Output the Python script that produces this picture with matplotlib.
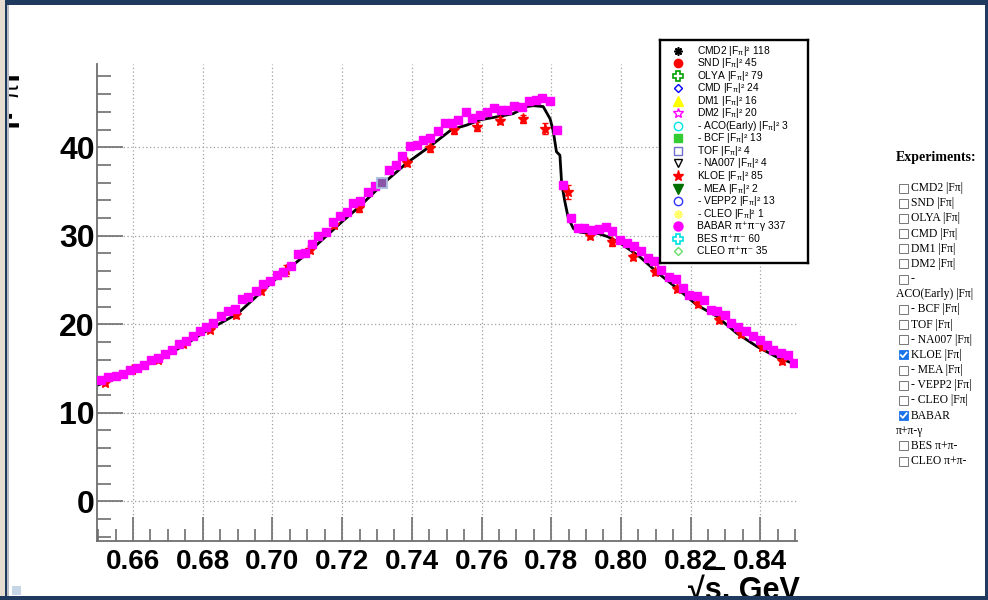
import matplotlib
matplotlib.use("Agg")
import matplotlib.pyplot as plt
from matplotlib.lines import Line2D
from matplotlib.patches import Rectangle
import numpy as np

plt.rcParams['font.family'] = ['Liberation Sans', 'DejaVu Sans']
plt.rcParams['mathtext.fontset'] = 'custom'
plt.rcParams['mathtext.rm'] = 'Liberation Sans'
plt.rcParams['mathtext.it'] = 'Liberation Sans'
plt.rcParams['mathtext.bf'] = 'Liberation Sans:bold'

# ---------------- data ----------------
babar_x = [0.6508,0.6529,0.6550,0.6571,0.6590,0.6611,0.6632,0.6652,0.6671,0.6692,
           0.6711,0.6732,0.6751,0.6772,0.6791,0.6810,0.6830,0.6853,0.6872,0.6893,
           0.6912,0.6931,0.6952,0.6973,0.6992,0.7012,0.7031,0.7052,0.7074,0.7094,
           0.7113,0.7132,0.7153,0.7175,0.7194,0.7213,0.7232,0.7251,0.7275,0.7294,
           0.7314,0.7335,0.7354,0.7373,0.7394,0.7414,0.7433,0.7453,0.7474,0.7495,
           0.7514,0.7533,0.7555,0.7574,0.7596,0.7615,0.7635,0.7655,0.7674,0.7694,
           0.7715,0.7736,0.7755,0.7774,0.7796,0.7817,0.7835,0.7856,0.7876,0.7895,
           0.7916,0.7937,0.7956,0.7975,0.7996,0.8017,0.8038,0.8057,0.8078,0.8095,
           0.8116,0.8137,0.8158,0.8177,0.8196,0.8217,0.8238,0.8258,0.8277,0.8298,
           0.8317,0.8336,0.8359,0.8378,0.8399,0.8418,0.8437,0.8459,0.8479,0.8498]
babar_y = [13.7,14.0,14.1,14.4,14.8,15.1,15.4,16.0,16.2,16.6,
           17.1,17.8,18.1,18.7,19.2,19.7,20.1,20.9,21.5,21.7,
           22.9,23.1,23.8,24.6,24.9,25.6,25.85,26.6,27.9,28.1,
           29.1,30.0,30.4,31.5,32.2,32.7,33.7,33.9,35.0,35.6,
           36.0,37.4,38.0,39.0,40.1,40.3,40.8,41.1,41.8,42.7,
           42.7,43.1,44.0,43.3,43.6,44.0,44.4,44.2,44.2,44.7,
           44.5,45.2,45.3,45.6,45.2,42.0,35.7,32.0,30.9,30.9,
           30.6,30.8,31.0,30.5,29.5,29.2,28.8,28.3,27.5,27.1,
           26.1,25.3,25.1,24.1,23.3,23.2,22.7,21.6,21.5,21.0,
           20.2,19.7,19.2,18.7,18.2,17.7,17.1,16.7,16.5,15.6]

kloe_x = [0.6520,0.6596,0.6671,0.6744,0.6821,0.6895,0.6966,0.7038,0.7108,0.7178,
          0.7249,0.7315,0.7385,0.7452,0.7521,0.7586,0.7653,0.7718,0.7782,0.7847,
          0.7911,0.7974,0.8036,0.8098,0.8160,0.8222,0.8282,0.8344,0.8404,0.8463]
kloe_y = [13.4,14.8,16.0,17.8,19.4,21.1,23.8,26.1,28.4,31.2,
          33.1,36.0,38.2,39.9,41.9,42.3,43.0,43.2,42.1,34.9,
          30.0,29.25,27.6,25.9,24.0,22.3,20.5,18.9,17.4,15.8]
kloe_err = [0.3,0.3,0.3,0.3,0.3,0.35,0.35,0.6,0.4,0.35,
            0.4,0.35,0.35,0.4,0.4,0.5,0.4,0.45,0.6,0.8,
            0.4,0.35,0.35,0.35,0.3,0.3,0.3,0.3,0.3,0.3]

tof_x = [0.7315]
tof_y = [36.0]

model_x = [0.6497,0.655,0.660,0.665,0.670,0.675,0.680,0.685,0.690,0.695,
           0.700,0.705,0.710,0.715,0.720,0.725,0.7318,0.7385,0.7452,0.7514,
           0.7557,0.7596,0.7653,0.7691,0.7729,0.7749,0.7777,0.7797,0.7806,0.7815,
           0.7825,0.7830,0.7839,0.7849,0.7864,0.7883,0.7907,0.7931,0.7962,0.7997,
           0.8055,0.8103,0.8160,0.8217,0.8275,0.8332,0.8390,0.8447,0.8505]
model_y = [13.1,13.9,14.7,15.6,16.6,17.7,19.0,20.1,21.2,23.0,
           24.8,26.4,28.0,29.8,31.6,33.3,35.9,38.2,40.1,42.0,
           42.5,43.1,43.5,43.8,44.6,44.7,44.6,43.2,41.8,39.5,
           39.1,35.9,33.9,32.0,30.8,30.4,30.3,30.3,29.9,29.2,
           27.6,25.9,24.1,22.2,20.9,19.0,17.5,16.3,15.4]

x_ticks = [0.66,0.68,0.70,0.72,0.74,0.76,0.78,0.80,0.82,0.84]
x_tick_labels = ["0.66","0.68","0.70","0.72","0.74","0.76","0.78","0.80","0.82","0.84"]
y_ticks = [0,10,20,30,40]
y_tick_labels = ["0","10","20","30","40"]

legend_labels = [
    r"CMD2 |F$_{\pi}$|² 118", r"SND |F$_{\pi}$|² 45", r"OLYA |F$_{\pi}$|² 79",
    r"CMD |F$_{\pi}$|² 24", r"DM1 |F$_{\pi}$|² 16", r"DM2 |F$_{\pi}$|² 20",
    r"- ACO(Early) |F$_{\pi}$|² 3", r"- BCF |F$_{\pi}$|² 13", r"TOF |F$_{\pi}$|² 4",
    r"- NA007 |F$_{\pi}$|² 4", r"KLOE |F$_{\pi}$|² 85", r"- MEA |F$_{\pi}$|² 2",
    r"- VEPP2 |F$_{\pi}$|² 13", r"- CLEO |F$_{\pi}$|² 1",
    "BABAR π⁺π⁻γ 337", "BES π⁺π⁻ 60", "CLEO π⁺π⁻ 35"]
legend_styles = [
    dict(marker=(8, 2, 0), color='black', ms=6, mew=1.2),
    dict(marker='o', color='red', ms=6),
    dict(marker='P', mfc='none', mec='#00a000', ms=6.5, mew=1.2),
    dict(marker='D', mfc='none', mec='blue', ms=4.5, mew=1.0),
    dict(marker='^', color='#ffff00', ms=6.5),
    dict(marker='*', mfc='none', mec='#ff00ff', ms=7, mew=1.0),
    dict(marker='o', mfc='none', mec='#00e5e5', ms=6, mew=1.0),
    dict(marker='s', color='#33cc33', ms=6),
    dict(marker='s', mfc='none', mec='#7070d0', ms=6, mew=1.0),
    dict(marker='v', mfc='none', mec='black', ms=6, mew=1.0),
    dict(marker='*', color='red', ms=8),
    dict(marker='v', color='#007000', ms=6.5),
    dict(marker='o', mfc='none', mec='#3030ff', ms=6, mew=1.0),
    dict(marker=(8, 2, 0), color='#ffff66', ms=6, mew=1.2),
    dict(marker='o', color='#ff00ff', ms=6.5),
    dict(marker='P', mfc='none', mec='#00e0e0', ms=6.5, mew=1.2),
    dict(marker='D', mfc='none', mec='#66dd66', ms=4.5, mew=1.0),
]

panel_items = ["CMD2 |Fπ|", "SND |Fπ|", "OLYA |Fπ|", "CMD |Fπ|", "DM1 |Fπ|", "DM2 |Fπ|",
               "-", "ACO(Early) |Fπ|", "- BCF |Fπ|", "TOF |Fπ|", "- NA007 |Fπ|", "KLOE |Fπ|",
               "- MEA |Fπ|", "- VEPP2 |Fπ|", "- CLEO |Fπ|", "BABAR", "π+π-γ", "BES π+π-", "CLEO π+π-"]
panel_box = [0, 0, 0, 0, 0, 0, 0, None, 0, 0, 0, 1, 0, 0, 0, 1, None, 0, 0]

# ---------------- figure ----------------
W, H = 988, 600
fig = plt.figure(figsize=(W/100, H/100), dpi=100)
fig.patch.set_facecolor('white')

def fx(p): return p / W
def fy(p): return 1 - p / H

ax = fig.add_axes([fx(97), fy(541), fx(797) - fx(97), fy(64) - fy(541)])
ax.set_xlim(0.64967, 0.85053)
ax.set_ylim(-4.49, 49.41)

ax.plot(model_x, model_y, color='black', lw=2.0, zorder=2)
ax.errorbar(kloe_x, kloe_y, yerr=kloe_err, fmt='*', color='red', ms=8, mec='red',
            ecolor='red', elinewidth=1.2, capsize=2.5, zorder=3)
ax.plot(babar_x, babar_y, 's', color='#ff00ff', ms=5.8, mec='#ff00ff', zorder=4)
ax.plot(tof_x, tof_y, 's', mfc='#7d5f9e', mec='#a9c1e0', mew=1.5, ms=7, zorder=5, alpha=0.9)

ax.set_xticks(x_ticks)
ax.set_xticklabels(x_tick_labels)
ax.set_yticks(y_ticks)
ax.set_yticklabels(y_tick_labels)
ax.set_xticks(np.arange(0.65, 0.8506, 0.005), minor=True)
ax.set_yticks(np.arange(-4, 49.5, 2), minor=True)

ax.grid(True, which='major', color='#a0a0a0', lw=0.9, linestyle=(0, (1, 2)))
ax.tick_params(axis='both', which='both', direction='in', color='#6e6e6e', width=1.2,
               top=False, right=False)
ax.tick_params(axis='y', which='major', length=19, pad=1.5)
ax.tick_params(axis='y', which='minor', length=10)
ax.tick_params(axis='x', which='major', length=17, pad=6)
ax.tick_params(axis='x', which='minor', length=9)
for lab in ax.get_yticklabels():
    lab.set_fontfamily(['Liberation Sans', 'DejaVu Sans'])
    lab.set_fontweight('bold')
    lab.set_fontsize(23)
for lab in ax.get_xticklabels():
    lab.set_fontfamily(['Liberation Sans', 'DejaVu Sans'])
    lab.set_fontweight('bold')
    lab.set_fontsize(20)
for s in ['top', 'right']:
    ax.spines[s].set_visible(False)
for s in ['left', 'bottom']:
    ax.spines[s].set_color('#6e6e6e')
    ax.spines[s].set_linewidth(1.3)

# axis title
fig.text(fx(800), fy(576), "√s, GeV", ha='right', va='top', fontsize=22,
         fontweight='bold', family=['Liberation Sans', 'DejaVu Sans'])
fig.lines.append(Line2D([fx(706), fx(723)], [fy(568), fy(568)], color='black', lw=2.2,
                        transform=fig.transFigure))
# y title (mostly clipped by the page edge, as in the reference)
fig.text(fx(24), fy(60), r"|F$_{\pi}$|$^{2}$", rotation=90, ha='right', va='top',
         fontsize=24, fontweight='bold')

# legend box (own small axes in pixel units)
lax = fig.add_axes([fx(660), fy(263), fx(808) - fx(660), fy(40) - fy(263)], zorder=20)
lax.set_xlim(0, 148)
lax.set_ylim(223, 0)
lax.set_xticks([])
lax.set_yticks([])
lax.set_facecolor('white')
for s in lax.spines.values():
    s.set_color('black')
    s.set_linewidth(1.7)
row0, rpitch = 10.5, 12.55
for i, (lab, st) in enumerate(zip(legend_labels, legend_styles)):
    yy = row0 + i * rpitch
    lax.plot([18], [yy], ls='', **st)
    lax.text(37, yy, lab, ha='left', va='center', fontsize=7.4,
             family=['Liberation Sans', 'DejaVu Sans'])

# right HTML panel
fig.text(fx(896), fy(158), "Experiments:", ha='left', va='center', fontsize=10,
         fontweight='bold', family=['Liberation Serif', 'DejaVu Serif'])
row0, pitch = 188, 15.17
for i, (item, box) in enumerate(zip(panel_items, panel_box)):
    yc = row0 + i * pitch
    if box is None:
        fig.text(fx(896), fy(yc), item, ha='left', va='center', fontsize=8.4,
                 family=['Liberation Serif', 'DejaVu Serif'])
        continue
    if box:
        fig.patches.append(Rectangle((fx(899), fy(yc + 4.5)), fx(9), 9 / H,
                                     transform=fig.transFigure, facecolor='#1a73e8',
                                     edgecolor='#1a73e8', lw=0.6))
        fig.lines.append(Line2D([fx(900.8), fx(902.8), fx(906.6)],
                                [fy(yc + 0.2), fy(yc + 2.3), fy(yc - 2.3)],
                                color='white', lw=1.3, transform=fig.transFigure))
    else:
        fig.patches.append(Rectangle((fx(899), fy(yc + 4.5)), fx(9), 9 / H,
                                     transform=fig.transFigure, facecolor='white',
                                     edgecolor='#767676', lw=0.7))
    fig.text(fx(911), fy(yc), item, ha='left', va='center', fontsize=8.4,
             family=['Liberation Serif', 'DejaVu Serif'])

# page frame
navy = '#1f3a5e'
fig.patches.append(Rectangle((0, fy(5)), 1, 5 / H, transform=fig.transFigure,
                             facecolor=navy, edgecolor='none', zorder=30))
fig.patches.append(Rectangle((0, 0), fx(5), 1, transform=fig.transFigure,
                             facecolor='#e6ddd0', edgecolor='none', zorder=30))
fig.patches.append(Rectangle((fx(5), 0), fx(2), 1, transform=fig.transFigure,
                             facecolor=navy, edgecolor='none', zorder=30))
fig.patches.append(Rectangle((fx(7), 0), fx(2), fy(5), transform=fig.transFigure,
                             facecolor='#b9bcc2', edgecolor='none', zorder=30))
fig.patches.append(Rectangle((fx(985), 0), fx(3), 1, transform=fig.transFigure,
                             facecolor=navy, edgecolor='none', zorder=30))
fig.patches.append(Rectangle((0, 0), 1, 4 / H, transform=fig.transFigure,
                             facecolor=navy, edgecolor='none', zorder=30))
fig.patches.append(Rectangle((fx(12), fy(595)), fx(9), 9 / H, transform=fig.transFigure,
                             facecolor='#c6d6e6', edgecolor='none', zorder=31))

fig.savefig("out.png", dpi=100)
